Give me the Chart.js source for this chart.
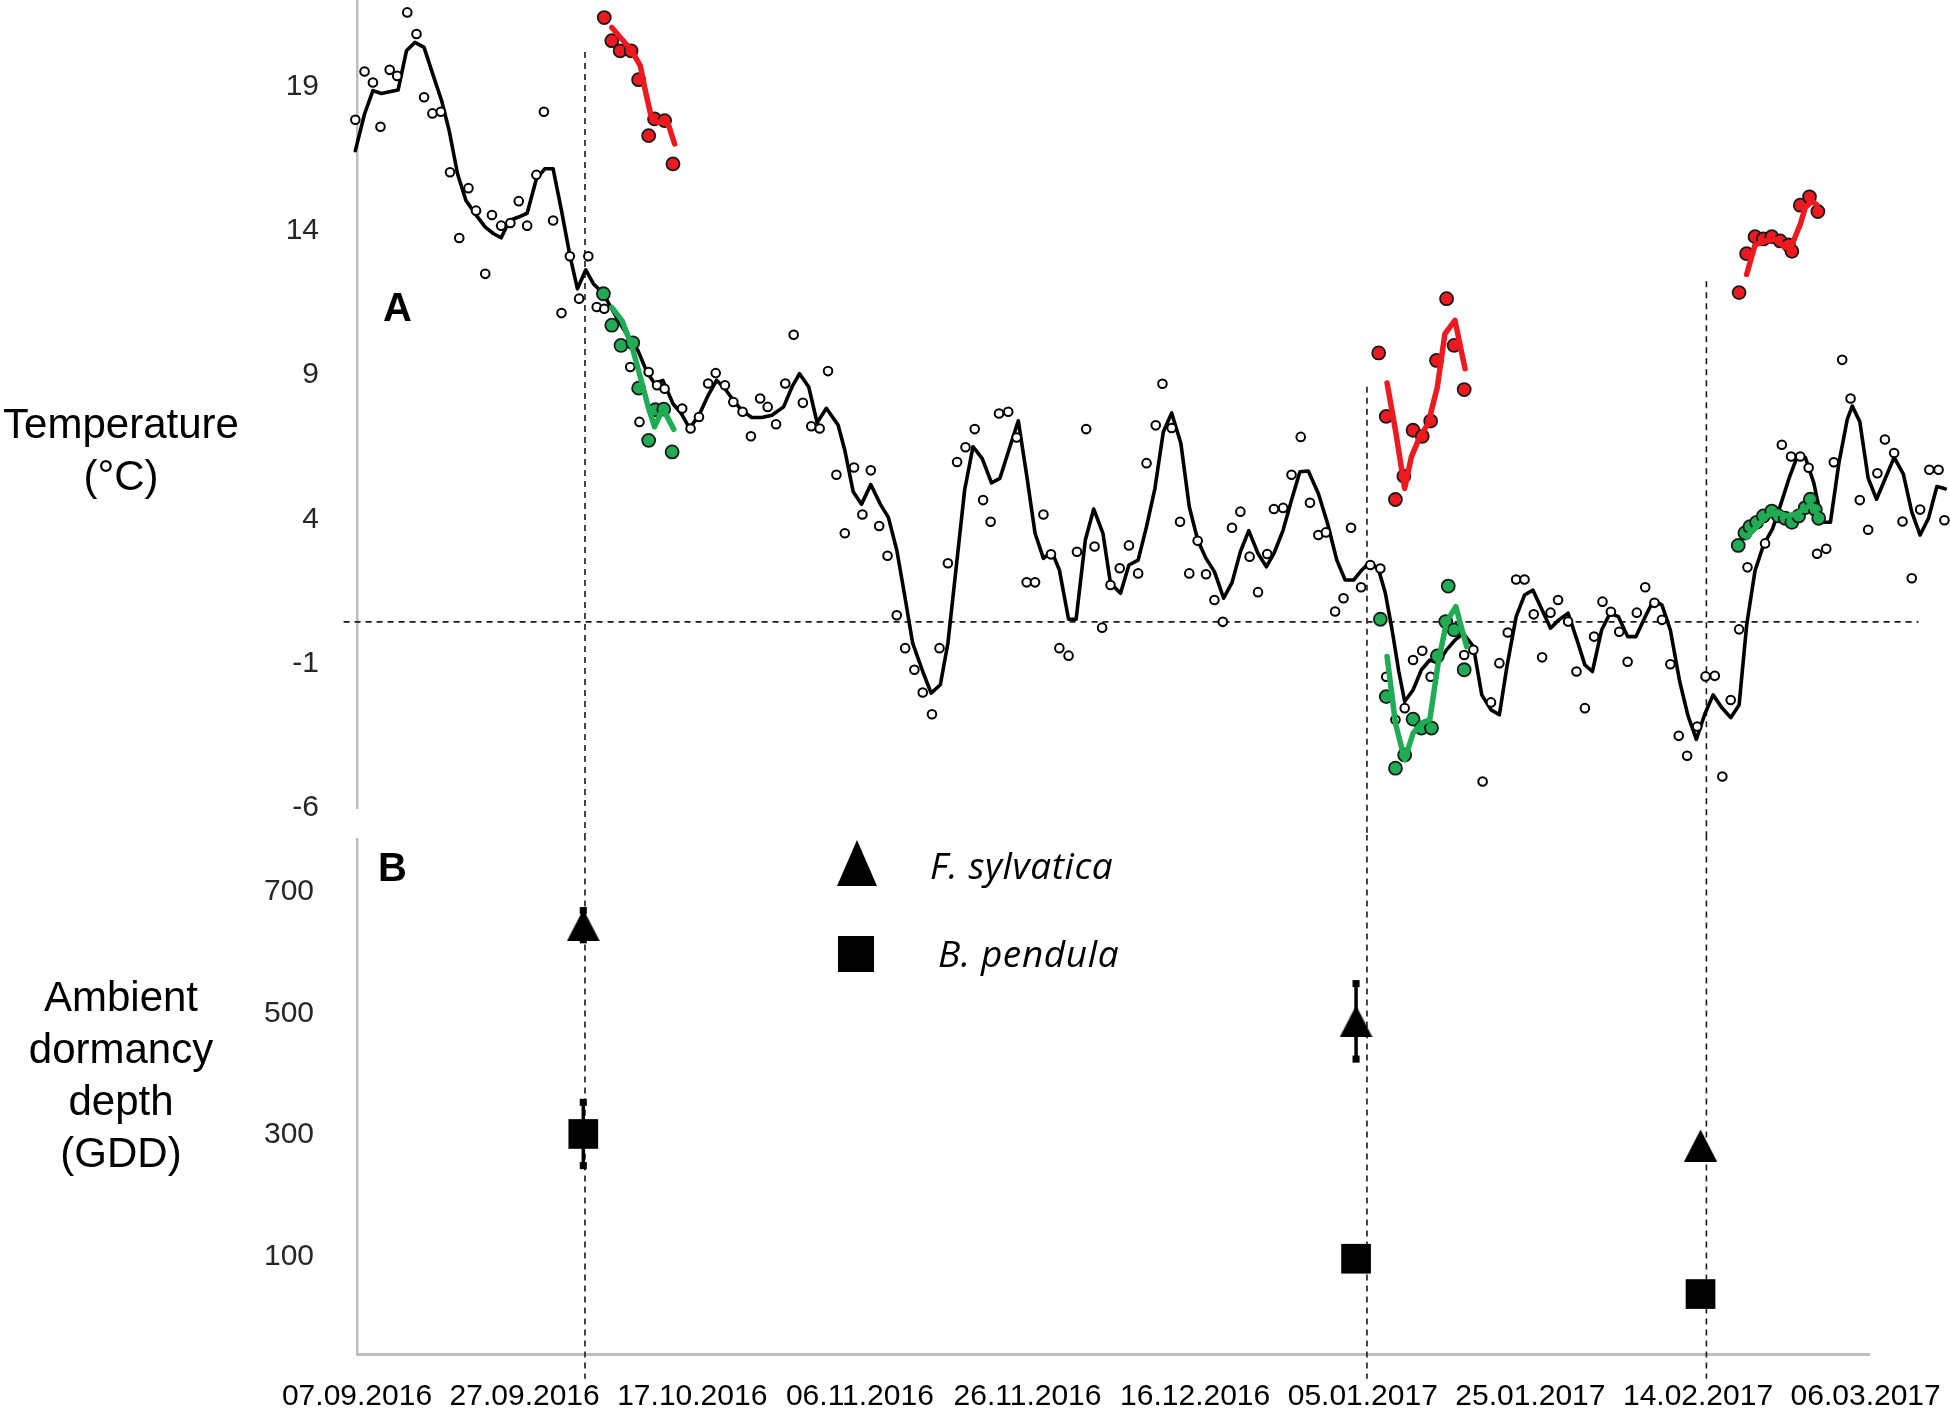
<!DOCTYPE html>
<html><head><meta charset="utf-8">
<script src="https://cdn.jsdelivr.net/npm/chart.js@4.4.1/dist/chart.umd.min.js"></script>
<style>
html,body{margin:0;padding:0;background:#fff;}
#wrap{position:relative;width:1950px;height:1410px;overflow:hidden;font-family:"Liberation Sans",Arial,sans-serif;background:#fff;}
canvas{position:absolute;left:0;}
#cA{top:0;}
#cB{top:835px;}
.t{position:absolute;color:#000;white-space:nowrap;}
.ttl{left:0;width:242px;text-align:center;font-size:42px;line-height:52px;}
.pl{font-weight:bold;font-size:40px;line-height:40px;}
.lg{font-family:"Open Sans",sans-serif;font-style:italic;font-size:37px;line-height:40px;letter-spacing:0.6px;}
#triLeg{position:absolute;left:837px;top:840px;width:0;height:0;border-left:20px solid transparent;border-right:20px solid transparent;border-bottom:46px solid #000;}
#sqLeg{position:absolute;left:838px;top:936px;width:36px;height:36px;background:#000;}
</style></head><body>
<div id="wrap">
<canvas id="cA" width="1950" height="835"></canvas>
<canvas id="cB" width="1950" height="575"></canvas>
<div class="t ttl" style="top:398px;">Temperature<br>(°C)</div>
<div class="t ttl" style="top:971px;">Ambient<br>dormancy<br>depth<br>(GDD)</div>
<div class="t pl" style="left:383px;top:287px;">A</div>
<div class="t pl" style="left:378px;top:847px;">B</div>
<div id="triLeg"></div>
<div id="sqLeg"></div>
<div class="t lg" style="left:930px;top:845px;">F. sylvatica</div>
<div class="t lg" style="left:938px;top:933px;">B. pendula</div>
</div>
<script>
// ---------- DATA ----------
// x values are days since 07.09.2016
const dateLabels = ["07.09.2016","27.09.2016","17.10.2016","06.11.2016","26.11.2016","16.12.2016","05.01.2017","25.01.2017","14.02.2017","06.03.2017"];
const dateTickDays = [0,20,40,60,80,100,120,140,160,180];
const tempTicks = [-6,-1,4,9,14,19];
const gddTicks = [100,300,500,700];

// daily mean ambient temperature [day, °C] (open circles)
const dailyTemp = [[-0.2,17.85],[0.9,19.52],[1.9,19.14],[2.8,17.61],[3.9,19.58],[4.8,19.37],[6.0,21.57],[7.1,20.82],[8.0,18.63],[9.0,18.07],[10.0,18.13],[11.1,16.03],[12.2,13.75],[13.3,15.48],[14.2,14.70],[15.3,12.51],[16.1,14.55],[17.2,14.18],[18.3,14.27],[19.3,15.03],[20.3,14.18],[21.4,15.94],[22.3,18.13],[23.4,14.36],[24.4,11.15],[25.4,13.12],[26.5,11.65],[27.6,13.12],[28.6,11.36],[29.5,11.30],[32.6,9.28],[33.7,7.38],[34.8,9.11],[35.8,8.65],[36.7,8.53],[38.8,7.84],[39.8,7.15],[40.8,7.55],[41.9,8.71],[42.8,9.07],[43.9,8.65],[44.9,8.07],[46.0,7.73],[47.0,6.88],[48.1,8.19],[49.0,7.90],[50.0,7.30],[51.1,8.71],[52.1,10.40],[53.2,8.04],[54.2,7.23],[55.2,7.15],
[56.2,9.14],[57.2,5.55],[58.2,3.52],[59.3,5.80],[60.3,4.17],[61.3,5.70],[62.3,3.77],[63.3,2.74],[64.4,0.68],[65.4,-0.46],[66.5,-1.21],[67.5,-2.0],[68.6,-2.75],[69.5,-0.46],[70.5,2.48],[71.6,5.99],[72.6,6.50],[73.7,7.13],[74.7,4.67],[75.6,3.92],[76.6,7.67],[77.7,7.73],[78.7,6.84],[79.9,1.82],[80.9,1.82],[81.9,4.17],[82.8,2.79],[83.8,-0.46],[84.9,-0.72],[85.9,2.88],[87.0,7.13],[88.0,3.06],[88.9,0.25],[89.9,1.73],[91.0,2.31],[92.1,3.10],[93.2,2.13],[94.2,5.95],[95.3,7.26],[96.1,8.70],[97.2,7.17],[98.2,3.92],[99.3,2.13],[100.3,3.26],[101.3,2.10],[102.3,1.21],[103.3,0.45],[104.4,3.71],[105.4,4.27],[106.5,2.71],[107.5,1.48],[108.6,2.80],[109.4,4.36],[110.5,4.40],[111.5,5.55],[112.6,6.86],[113.7,4.58],[114.7,3.46],[115.6,3.55],[116.7,0.81],[117.7,1.27],[118.6,3.71],
[119.8,1.65],[120.9,2.42],[122.1,2.30],[122.8,-1.45],[123.9,-2.94],[125.0,-2.54],[126.0,-0.87],[127.1,-0.55],[128.1,-1.45],[132.1,-0.70],[133.2,-0.52],[134.3,-5.08],[135.3,-2.34],[136.3,-0.98],[137.3,0.08],[138.3,1.92],[139.3,1.92],[140.4,0.71],[141.4,-0.78],[142.4,0.77],[143.3,1.21],[144.5,0.46],[145.5,-1.27],[146.5,-2.54],[147.6,-0.06],[148.6,1.15],[149.6,0.80],[150.6,0.11],[151.6,-0.93],[152.7,0.77],[153.7,1.65],[154.8,1.11],[155.7,0.52],[156.7,-1.02],[157.7,-3.50],[158.7,-4.19],[159.9,-3.18],[160.9,-1.44],[162.0,-1.42],
[162.9,-4.91],[163.9,-2.26],[164.9,0.19],[165.9,2.34],[168.0,3.17],[170.0,6.59],[171.1,6.18],[172.2,6.18],[173.2,5.79],[174.2,2.81],[175.3,2.98],[176.2,5.98],[177.2,9.53],[178.2,8.19],[179.3,4.67],[180.3,3.64],[181.4,5.60],[182.3,6.77],[183.4,6.30],[184.4,3.93],[185.5,1.96],[186.5,4.34],[187.6,5.72],[188.7,5.72],[189.4,3.97]];

// running mean of ambient temperature [day, °C] (black line)
const runningTemp = [[-0.2,16.78],[0.9,18.05],[1.9,18.86],[2.9,18.76],[4.9,18.88],[5.9,20.24],[6.9,20.53],[8.0,20.36],[9.1,19.38],[10.1,18.51],[11.0,17.47],[12.0,15.97],[13.0,15.05],[14.1,14.59],[15.3,14.13],[16.3,13.90],[17.2,13.76],[18.2,14.36],[19.2,14.47],[20.3,14.61],[21.4,15.80],[22.4,16.15],[23.4,16.15],[24.4,14.70],[25.4,13.15],[26.3,11.99],[27.3,12.65],[28.2,12.17],[29.4,11.82],[30.4,11.30],[31.4,10.78],[32.4,10.32],[33.5,9.86],[34.6,9.11],[35.5,8.71],[36.5,8.82],[37.7,8.01],[38.7,7.67],[39.7,7.15],[40.9,7.67],[41.9,8.30],[42.9,8.82],[43.9,8.53],[44.9,8.13],[45.9,7.78],[47.1,7.53],[48.3,7.53],[49.5,7.61],[50.9,7.90],[51.9,8.59],[52.8,9.05],[53.9,8.59],[54.9,7.35],[56.0,7.85],
[57.4,7.27],[58.2,6.40],[59.2,4.96],[60.2,4.53],[61.3,5.21],[62.4,4.55],[63.4,4.07],[64.4,2.94],[65.3,1.44],[66.3,-0.29],[67.5,-1.27],[68.5,-2.02],[69.6,-1.73],[70.5,-0.29],[71.5,2.36],[72.5,5.02],[73.5,6.52],[74.6,6.11],[75.7,5.27],[76.7,5.42],[77.9,6.52],[78.9,7.42],[79.9,5.53],[80.9,3.52],[81.9,2.65],[82.9,2.88],[83.8,2.25],[84.9,0.54],[85.8,0.54],[86.9,3.29],[87.9,4.36],[89.0,3.52],[89.9,1.79],[91.1,1.44],[92.1,2.42],[93.2,2.59],[94.2,3.75],[95.2,5.07],[96.2,7.03],[97.2,7.69],[98.3,6.63],[99.3,4.44],[100.3,3.29],[101.3,2.65],[102.3,2.19],[103.4,1.27],[104.4,1.81],[105.4,2.88],[106.4,3.61],[107.5,2.82],[108.5,2.36],[109.4,2.82],[110.5,3.63],[111.5,4.67],[112.5,5.65],[113.5,5.68],[114.7,4.90],[115.8,3.86],[116.9,2.59],[117.9,1.90],
[118.9,1.90],[119.9,2.25],[120.9,2.53],[121.9,2.25],[122.7,1.44],[123.5,0.17],[124.3,-1.27],[125.0,-2.31],[126.0,-1.91],[127.0,-1.21],[128.0,-0.87],[129.0,-0.98],[130.0,-0.52],[131.0,-0.18],[132.0,0.05],[133.2,-0.41],[134.2,-2.08],[135.3,-2.60],[136.3,-2.77],[137.2,-1.10],[138.3,0.63],[139.3,1.38],[140.3,1.55],[141.4,0.86],[142.4,0.23],[143.4,0.52],[144.5,0.75],[145.5,-0.12],[146.5,-1.04],[147.4,-1.27],[148.5,0.17],[149.5,0.75],[150.5,0.63],[151.6,-0.06],[152.6,-0.06],[153.6,0.57],[154.7,1.21],[155.7,1.03],[156.7,0.17],[157.8,-1.60],[158.8,-2.80],[159.8,-3.62],[160.8,-2.75],[161.8,-2.08],
[162.8,-2.51],[163.9,-2.87],[164.9,-2.43],[165.8,0.33],[166.8,2.22],[167.8,3.10],[168.9,3.68],[169.9,4.55],[170.9,5.46],[171.9,6.23],[172.8,6.15],[173.8,5.28],[174.8,3.90],[175.8,3.90],[176.8,5.94],[177.8,7.46],[178.4,7.93],[179.3,7.39],[180.3,5.43],[181.3,4.70],[182.4,5.46],[183.4,6.15],[184.5,5.57],[185.5,4.26],[186.5,3.46],[187.5,4.04],[188.5,5.14],[189.5,5.06]];

// red measurements [day, °C] and their running means
const redDots1 = [[29.5,21.39],[30.4,20.59],[31.4,20.24],[32.7,20.24],[33.6,19.24],[34.8,17.30],[35.5,17.88],[36.7,17.82],[37.7,16.32]];
const redLine1 = [[30.4,21.05],[31.6,20.64],[32.8,20.24],[33.8,19.72],[34.4,18.86],[35.2,17.82],[36.0,17.76],[37.0,17.82],[37.9,17.01]];
const redDots2 = [[121.9,9.77],[122.8,7.57],[123.9,4.69],[124.9,5.50],[126.0,7.09],[127.1,6.88],[128.1,7.41],[128.8,9.51],[130.0,11.65],[130.9,10.03],[132.1,8.50]];
const redLine2 = [[122.9,8.73],[123.9,7.09],[125.0,5.07],[125.8,6.17],[126.8,6.86],[127.8,7.32],[128.9,8.59],[129.8,10.43],[131.0,10.90],[132.2,9.22]];
const redDots3 = [[164.9,11.86],[165.8,13.21],[166.8,13.80],[167.8,13.72],[168.8,13.80],[169.8,13.65],[170.8,13.51],[171.2,13.29],[172.2,14.89],[173.3,15.18],[174.3,14.67]];
const redLine3 = [[165.8,12.49],[166.8,13.51],[168.0,13.65],[169.2,13.72],[170.4,13.43],[171.2,13.51],[172.2,14.23],[172.8,14.81],[173.6,15.03],[174.2,14.89]];
// green measurements [day, °C] and their running means
const greenDots1 = [[29.4,11.82],[30.4,10.73],[31.5,10.03],[32.9,10.12],[33.6,8.55],[34.8,6.74],[35.6,7.80],[36.6,7.82],[37.6,6.34]];
const greenLine1 = [[30.4,11.35],[31.6,10.9],[32.8,10.0],[33.8,8.94],[34.8,7.84],[35.5,7.21],[36.5,7.84],[37.8,7.12]];
const greenDots2 = [[122.1,0.54],[122.8,-2.14],[123.9,-4.62],[125.0,-4.16],[126.0,-2.92],[127.0,-3.23],[128.2,-3.23],[128.9,-0.73],[129.9,0.46],[130.2,1.69],[130.9,0.17],[132.1,-1.21]];
const greenLine2 = [[122.9,-0.75],[123.9,-3.06],[125.0,-4.33],[126.0,-3.41],[127.0,-3.06],[128.0,-2.94],[129.0,-0.98],[130.0,0.46],[131.1,0.98],[132.4,-0.41]];
const greenDots3 = [[164.8,3.10],[165.6,3.53],[166.2,3.75],[167.0,3.90],[167.8,4.12],[168.8,4.29],[169.6,4.12],[170.4,4.04],[171.2,3.90],[172.0,4.12],[172.8,4.41],[173.4,4.70],[174.0,4.34],[174.4,4.04]];
const greenLine3 = [[165.8,3.39],[167.0,3.75],[168.2,4.12],[169.4,4.26],[170.6,4.12],[171.8,4.19],[172.8,4.41],[173.6,4.48],[174.2,4.19]];

// threshold temperature (horizontal dashed line) and sampling dates (vertical dashed lines)
const thresholdTemp = 0.45;
const samplingDays = [27.2, 120.5, 161.0];

// panel B: ambient dormancy depth (GDD) at the three sampling dates
const gddDays = [27.0, 119.2, 160.3];
const fSylvatica = [645, 487, 283];
const fSylvaticaErr = [24, 62, 0];
const bPendula = [302, 97, 39];
const bPendulaErr = [52, 0, 0];

// ---------- CHARTS ----------
const P = a => a.map(([x, y]) => ({x, y}));
const RED = '#ee1a1f', GREEN = '#1fac55';
const tickFont = {family: '"Liberation Sans", Arial, sans-serif', size: 30};
// both panels share the same day-to-pixel mapping: plot starts at 357px,
// panel B ends at 1869px, panel A runs on to the page edge (1950px)
const X_MAX_B = 180.4;
const X_MAX_A = X_MAX_B * (1950 - 357) / (1869 - 357);

// box-centred triangle marker (as in the original figure)
const triImg = document.createElement('canvas');
triImg.width = 33; triImg.height = 32;
(function () {
  const c = triImg.getContext('2d');
  c.fillStyle = '#000';
  c.beginPath(); c.moveTo(0, 32); c.lineTo(16.5, 0); c.lineTo(33, 32); c.closePath(); c.fill();
})();

function dotSet(arr, color, order) {
  return {data: P(arr), showLine: false, pointRadius: 6.5, pointHoverRadius: 6.5,
    pointBackgroundColor: color, pointBorderColor: '#1a1a1a', pointBorderWidth: 1.8, order, clip: false};
}
function lineSet(arr, color, width, order) {
  return {data: P(arr), showLine: true, pointRadius: 0, borderColor: color, borderWidth: width,
    tension: 0, order, clip: false, borderJoinStyle: 'round', borderCapStyle: 'round'};
}
function dashSet(pts, order) {
  return {data: pts, showLine: true, pointRadius: 0, borderColor: '#1a1a1a', borderWidth: 1.6,
    borderDash: [6, 5], order, clip: false};
}
const lineTops = [20.2, 8.6, 12.25];
const dsA = [
  dashSet([{x: -1.6, y: thresholdTemp}, {x: 186.3, y: thresholdTemp}], 20),
  ...samplingDays.map((d, i) => dashSet([{x: d, y: lineTops[i]}, {x: d, y: -8}], 20)),
  lineSet(runningTemp, '#000', 3.6, 12),
  {data: P(dailyTemp), showLine: false, pointRadius: 4.3, pointBackgroundColor: '#fff',
    pointBorderColor: '#000', pointBorderWidth: 2, order: 11, clip: false},
  dotSet(greenDots1, GREEN, 8), dotSet(greenDots2, GREEN, 8), dotSet(greenDots3, GREEN, 8),
  lineSet(greenLine1, GREEN, 5.5, 7), lineSet(greenLine2, GREEN, 5.5, 7), lineSet(greenLine3, GREEN, 5.5, 7),
  dotSet(redDots1, RED, 5), dotSet(redDots2, RED, 5), dotSet(redDots3, RED, 5),
  lineSet(redLine1, RED, 5.5, 4), lineSet(redLine2, RED, 5.5, 4), lineSet(redLine3, RED, 5.5, 4)
];

const common = {
  responsive: false, animation: false, devicePixelRatio: 1,
  plugins: {legend: {display: false}, tooltip: {enabled: false}},
  events: []
};

new Chart(document.getElementById('cA'), {
  type: 'scatter',
  data: {datasets: dsA},
  options: Object.assign({}, common, {
    layout: {autoPadding: false, padding: {left: 0, right: 0, top: 0, bottom: 27}},
    scales: {
      x: {type: 'linear', min: 0, max: X_MAX_A, display: false},
      y: {type: 'linear', min: -6, max: 22,
        afterBuildTicks: s => { s.ticks = tempTicks.map(v => ({value: v})); },
        afterFit: s => { s.width = 357; s.paddingTop = 0; s.paddingBottom = 0; },
        grid: {display: false, drawTicks: false},
        border: {display: true, color: '#bdbdbd', width: 2.5},
        ticks: {padding: 38, color: '#262626', font: tickFont}
      }
    }
  })
});

const errSet = (d, v, e) => ({data: [{x: d, y: v - e}, {x: d, y: v + e}],
  showLine: true, borderColor: '#000', borderWidth: 3.5, pointStyle: 'rect', pointRadius: 5,
  pointBackgroundColor: '#000', pointBorderWidth: 0, order: 6, clip: false});

const dsB = [
  ...samplingDays.map(d => dashSet([{x: d, y: 830}, {x: d, y: -100}], 20)),
  ...gddDays.map((d, i) => fSylvaticaErr[i] > 0 ? errSet(d, fSylvatica[i], fSylvaticaErr[i]) : null).filter(Boolean),
  ...gddDays.map((d, i) => bPendulaErr[i] > 0 ? errSet(d, bPendula[i], bPendulaErr[i]) : null).filter(Boolean),
  {data: gddDays.map((d, i) => ({x: d, y: fSylvatica[i]})), showLine: false, pointStyle: triImg,
    pointRadius: 16, order: 2, clip: false},
  {data: gddDays.map((d, i) => ({x: d, y: bPendula[i]})), showLine: false, pointStyle: 'rect',
    pointRadius: 21, pointBackgroundColor: '#000', pointBorderWidth: 0, order: 2, clip: false}
];

new Chart(document.getElementById('cB'), {
  type: 'scatter',
  data: {datasets: dsB},
  options: Object.assign({}, common, {
    layout: {autoPadding: false, padding: {left: 0, right: 81, top: 4.4, bottom: 0}},
    scales: {
      x: {type: 'linear', min: 0, max: X_MAX_B,
        afterBuildTicks: s => { s.ticks = dateTickDays.map(v => ({value: v})); },
        afterFit: s => { s.height = 55.7; s.paddingLeft = 0; s.paddingRight = 0; },
        grid: {display: false, drawTicks: false},
        border: {display: true, color: '#bdbdbd', width: 3},
        ticks: {padding: 24, color: '#000', autoSkip: false, maxRotation: 0, minRotation: 0,
          font: {family: '"Liberation Sans", Arial, sans-serif', size: 30},
          callback: (v, i) => dateLabels[i]}
      },
      y: {type: 'linear', min: -60, max: 786,
        afterBuildTicks: s => { s.ticks = gddTicks.map(v => ({value: v})); },
        afterFit: s => { s.width = 357; s.paddingTop = 0; s.paddingBottom = 0; },
        grid: {display: false, drawTicks: false},
        border: {display: true, color: '#bdbdbd', width: 2.5},
        ticks: {padding: 43, color: '#262626', font: tickFont}
      }
    }
  })
});
</script>
</body></html>
